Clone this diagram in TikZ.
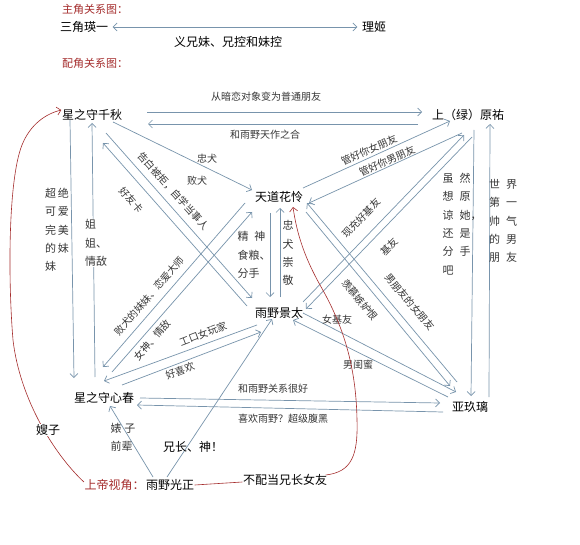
\documentclass[tikz,border=0pt]{standalone}
\usepackage{fontspec}
\setmainfont{Noto Sans CJK SC}
\usetikzlibrary{arrows.meta,calc}
\definecolor{lc}{RGB}{120,148,172}
\definecolor{rc}{RGB}{165,45,45}
\definecolor{tc}{RGB}{55,55,55}
\begin{document}
\begin{tikzpicture}[x=1pt,y=-1pt,
  nd/.style={font=\fontsize{12}{14}\selectfont, inner sep=0.5pt},
  lb/.style={font=\fontsize{10}{12}\selectfont, text=tc, inner sep=0.5pt},
  vt/.style={font=\fontsize{11}{18.3}\selectfont, text=tc, align=left, inner sep=0.5pt},
  ar/.style={draw=lc, line width=0.7pt, -{Straight Barb[length=4pt,width=8pt]}},
  rl/.style={draw=rc, line width=0.6pt},
  title/.style={font=\fontsize{11}{13}\selectfont, text=rc, inner sep=0.5pt}]
\fill[white] (0,0) rectangle (580,545);
\useasboundingbox (0,0) rectangle (580,545);

% top section
\node[title] (t1) at (95,9) {主角关系图：};
\node[nd] (sj) at (84,27) {三角瑛一};
\node[nd] (lj) at (374,27) {理姬};
\draw[draw=lc, line width=0.7pt, {Straight Barb[length=4pt,width=8pt]}-{Straight Barb[length=4pt,width=8pt]}] ($(sj.east)+(4,0)$) -- ($(lj.west)+(-4,0)$);
\node[nd] (yx) at (228,42) {义兄妹、兄控和妹控};
\node[title] (t2) at (95,63) {配角关系图：};

% main nodes
\node[nd] (qq) at (92,115) {星之守千秋};
\node[nd] (sy) at (468,115) {上（绿）原祐};
\node[nd] (td) at (279,197) {天道花怜};
\node[nd] (yj) at (279,313) {雨野景太};
\node[nd] (xc) at (104,398) {星之守心春};
\node[nd] (ajl) at (470,407) {亚玖璃};
\node[nd] (gz) at (170,485) {雨野光正};
\node[nd, text=rc, anchor=east] (sd) at (gz.west) {上帝视角：};

% A: qq <-> sy
\draw[ar] ($(qq)+(55,-3)$) -- ($(sy)+(-46,-3)$);
\draw[ar] ($(sy)+(-50,9)$) -- ($(qq)+(56,9)$);
\node[lb] (la1) at (266,97) {从暗恋对象变为普通朋友};
\node[lb] (la2) at (265,135) {和雨野天作之合};

% B: qq -> td
\draw[ar] ($(qq)+(21,7)$) -- ($(td)+(-27,-7)$);
\node[lb] (lb1) at (207,159) {忠犬};
\node[lb] (lb2) at (197,181) {败犬};

% C: qq <-> yj
\draw[ar] ($(qq)+(14,18)$) -- ($(yj)+(-27,-15)$);
\draw[ar] ($(yj)+(-32,-7)$) -- ($(qq)+(11,28)$);
\node[lb, rotate=-48] (lc1) at (173,191) {告白被拒，自学当事人};
\node[lb, rotate=-48] (lc2) at (131,200) {好友卡};

% D: td <-> sy
\draw[ar] ($(td)+(24,-9)$) -- ($(sy)+(-18,6)$);
\draw[ar] ($(sy)+(-6,18)$) -- ($(td)+(30,6)$);
\node[lb, rotate=24.5] (ld1) at (369,150) {管好你女朋友};
\node[lb, rotate=24.5] (ld2) at (387,161) {管好你男朋友};

% E: yj <-> sy
\draw[ar] ($(yj)+(24,-11)$) -- ($(sy)+(-4,20)$);
\draw[ar] ($(sy)+(4,22)$) -- ($(yj)+(27,-4)$);
\node[lb, rotate=46] (le1) at (361,218) {现充好基友};
\node[lb, rotate=46] (le2) at (389,247) {基友};

% F: sy <-> ajl
\draw[ar] ($(sy)+(6,15)$) -- ($(ajl)+(1,-11)$);
\draw[ar] ($(ajl)+(19,-10)$) -- ($(sy)+(22,9)$);
\node[vt] (lf1) at (462,224) {虽\hspace{6pt}然\\想\hspace{6pt}原\\谅\hspace{6pt}她，\\还\hspace{6pt}是\\分\hspace{6pt}手\\吧};
\node[vt] (lf2) at (503,221) {世\hspace{6pt}界\\第\hspace{6pt}一\\帅\hspace{6pt}气\\的\hspace{6pt}男\\朋\hspace{6pt}友};

% G: td <-> yj
\draw[ar] ($(td)+(-9,16)$) -- ($(yj)+(-9,-16)$);
\draw[ar] ($(yj)+(1,-16)$) -- ($(td)+(1,11)$);
\node[vt] (lg1) at (254,255) {精\hspace{6pt}神\\食粮、\\分手};
\node[vt] (lg2) at (288,253) {忠\\犬\\崇\\敬};

% H: td <-> ajl
\draw[ar] ($(td)+(27,15)$) -- ($(ajl)+(-20,-21)$);
\draw[ar] ($(ajl)+(-13,-25)$) -- ($(td)+(28,6)$);
\node[lb, rotate=-50] (lh1) at (360,300) {羡慕嫉妒恨};
\node[lb, rotate=-50] (lh2) at (410,302) {男朋友的女朋友};

% I: yj <-> ajl
\draw[ar] ($(yj)+(24,0)$) -- ($(ajl)+(-14,-15)$);
\draw[ar] ($(ajl)+(-22,-10)$) -- ($(yj)+(14,7)$);
\node[lb] (li1) at (337,320) {女基友};
\node[lb] (li2) at (358,365) {男闺蜜};

% J: xc <-> ajl
\draw[ar] ($(xc)+(36,0)$) -- ($(ajl)+(-30,-4)$);
\draw[ar] ($(ajl)+(-27,5)$) -- ($(xc)+(33,7)$);
\node[lb] (lj1) at (273,389) {和雨野关系很好};
\node[lb] (lj2) at (283,419) {喜欢雨野？超级腹黑};

% K: td <-> xc
\draw[ar] ($(td)+(-34,6)$) -- ($(xc)+(-1,-31)$);
\draw[ar] ($(xc)+(8,-26)$) -- ($(td)+(-27,15)$);
\node[lb, rotate=49] (lk1) at (149,296) {败犬的妹妹、恋爱大师};
\node[lb, rotate=49] (lk2) at (152,340) {女神、情敌};

% L: xc <-> yj
\draw[ar] ($(yj)+(-22,12)$) -- ($(xc)+(0,-17)$);
\draw[ar] ($(xc)+(18,-13)$) -- ($(yj)+(-18,19)$);
\node[lb, rotate=21] (ll1) at (203,334) {工口女玩家};
\node[lb, rotate=21] (ll2) at (180,371) {好喜欢};

% M: qq <-> xc
\draw[ar] ($(qq)+(-22,5)$) -- ($(xc)+(-30,-20)$);
\draw[ar] ($(xc)+(-9,-21)$) -- ($(qq)+(0,8)$);
\node[vt] (lm1) at (57,230) {超\hspace{2pt}绝\\可\hspace{2pt}爱\\完\hspace{2pt}美\\的\hspace{2pt}妹\\妹};
\node[vt, fill=white] (lm2) at (96,243) {姐\\姐、\\情敌};

% N: gz -> xc, gz -> yj
\draw[ar] ($(gz)+(-17,-8)$) -- ($(xc)+(6,8)$);
\draw[ar] ($(gz)+(-3,-8)$) -- ($(yj)+(-7,6)$);
\node[vt] (ln1) at (123,437) {婊\hspace{3pt}子\\前辈};
\node[nd] (ln2) at (193,447) {兄长、神！};

% red curves
\draw[rl, -{Straight Barb[length=4pt,width=8pt]}] ($(sd.west)+(0,-3)$) .. controls (55,455) and (20,400) .. (13,340) .. controls (8,280) and (8,180) .. (22,145) .. controls (30,125) and (45,114) .. ($(qq.west)+(0,-5)$);
\node[nd, fill=white] (sz) at (48,430) {嫂子};
\node[nd] (bp) at (285,480) {不配当兄长女友};
\draw[rl] (gz.east) -- ($(bp.west)+(0,2)$);
\draw[rl, -{Straight Barb[length=4pt,width=8pt]}] ($(bp.east)+(-2,-5)$) .. controls (352,472) and (358,455) .. (357,420) .. controls (356,360) and (340,320) .. (320,285) .. controls (305,258) and (297,235) .. ($(td)+(14,10)$);
\end{tikzpicture}
\end{document}
